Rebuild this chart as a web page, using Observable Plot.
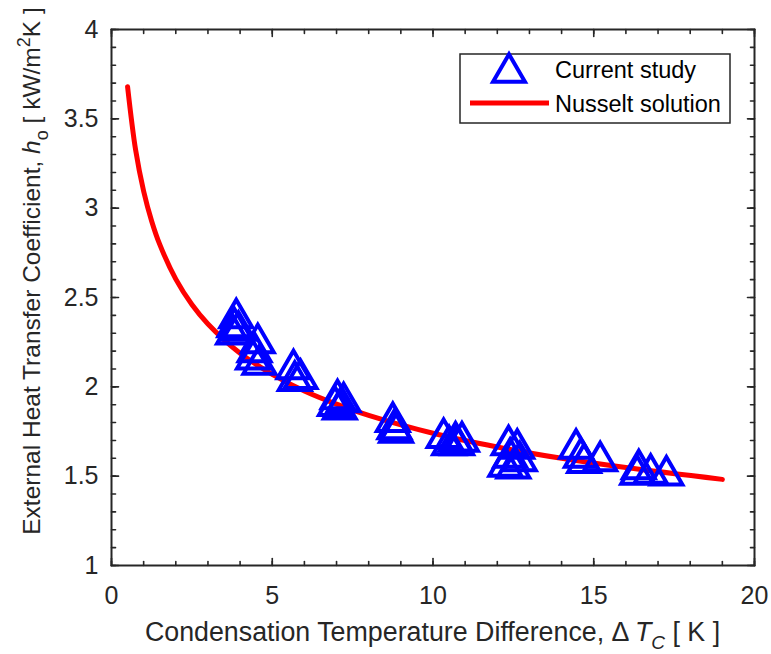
<!DOCTYPE html>
<html><head><meta charset="utf-8">
<script src="https://cdn.jsdelivr.net/npm/d3@7"></script>
<script src="https://cdn.jsdelivr.net/npm/@observablehq/plot@0.6"></script>
<style>body{margin:0;background:#fff} #chart{width:771px;height:654px}</style>
</head><body><div id="chart"></div>
<script>
// Current study (ΔT_C [K], h_o [kW/m²K])
const studyDT = [3.88, 3.82, 3.78, 3.95, 4.55, 4.45, 4.6, 4.4, 5.66, 5.88, 5.7, 7.03, 7.22, 7.1, 6.95, 8.75, 8.85, 8.8, 10.33, 10.7, 10.9, 10.75, 10.5, 12.35, 12.62, 12.4, 12.7, 12.25, 12.5, 14.45, 14.6, 15.2, 14.7, 16.4, 16.35, 16.77, 17.26];
const studyH  = [2.41, 2.36, 2.32, 2.34, 2.27, 2.22, 2.15, 2.18, 2.125, 2.07, 2.06, 1.957, 1.94, 1.90, 1.92, 1.83, 1.77, 1.79, 1.74, 1.72, 1.72, 1.70, 1.70, 1.70, 1.68, 1.63, 1.61, 1.58, 1.57, 1.68, 1.63, 1.61, 1.60, 1.565, 1.535, 1.54, 1.53];
// Nusselt solution
const nusseltDT = [0.5, 0.75, 1, 1.25, 1.5, 2, 2.5, 3, 4, 5, 6, 7, 8, 10, 12, 14, 16, 19];
const nusseltH  = [3.68, 3.326, 3.095, 2.927, 2.797, 2.603, 2.461, 2.352, 2.188, 2.07, 1.977, 1.903, 1.84, 1.74, 1.663, 1.60, 1.548, 1.482];
// Axes
const xTicks = [0, 5, 10, 15, 20];
const yTicks = [1, 1.5, 2, 2.5, 3, 3.5, 4];
const xMinor = [0,1,2,3,4,5,6,7,8,9,10,11,12,13,14,15,16,17,18,19,20];
const yMinor = [1,1.1,1.2,1.3,1.4,1.5,1.6,1.7,1.8,1.9,2,2.1,2.2,2.3,2.4,2.5,2.6,2.7,2.8,2.9,3,3.1,3.2,3.3,3.4,3.5,3.6,3.7,3.8,3.9,4];
const legendLabels = ["Current study", "Nusselt solution"];

const study = studyDT.map((dt, i) => ({dt, h: studyH[i]}));
const nusselt = nusseltDT.map((dt, i) => ({dt, h: nusseltH[i]}));

const INK = "#262626";
const FONT = "'Liberation Sans', Arial, Helvetica, sans-serif";

// triangle centred on its bounding box (like MATLAB's '^' marker)
const tri = {draw(ctx, size) {
  const r = Math.sqrt(size / Math.PI);
  ctx.moveTo(0, -0.95 * r);
  ctx.lineTo(1.1 * r, 0.95 * r);
  ctx.lineTo(-1.1 * r, 0.95 * r);
  ctx.closePath();
}};
const tickShape = {draw(ctx, l) { ctx.moveTo(0, 0); ctx.lineTo(0, -l); }};
const tickOpts = (len) => ({shape: tickShape, length: len, anchor: "start", stroke: INK, strokeWidth: 1.6});

const chart = Plot.plot({
  width: 771, height: 654,
  marginLeft: 111, marginRight: 17, marginTop: 29, marginBottom: 89,
  x: {domain: [0, 20]},
  y: {domain: [1, 4]},
  style: {fontFamily: FONT, background: "#fff", color: INK},
  marks: [
    Plot.line(nusselt, {x: "dt", y: "h", stroke: "#ff0000", strokeWidth: 5, curve: "catmull-rom"}),
    Plot.dot(study, {x: "dt", y: "h", symbol: tri, r: 14.5, stroke: "#0000ff", strokeWidth: 4, fill: "none", strokeLinejoin: "miter"}),
    // inward ticks on all four sides
    Plot.vectorX(xMinor, {x: d => d, frameAnchor: "bottom", rotate: 0, ...tickOpts(4)}),
    Plot.vectorX(xTicks, {x: d => d, frameAnchor: "bottom", rotate: 0, ...tickOpts(7)}),
    Plot.vectorX(xMinor, {x: d => d, frameAnchor: "top", rotate: 180, ...tickOpts(4)}),
    Plot.vectorX(xTicks, {x: d => d, frameAnchor: "top", rotate: 180, ...tickOpts(7)}),
    Plot.vectorY(yMinor, {y: d => d, frameAnchor: "left", rotate: 90, ...tickOpts(4)}),
    Plot.vectorY(yTicks, {y: d => d, frameAnchor: "left", rotate: 90, ...tickOpts(7)}),
    Plot.vectorY(yMinor, {y: d => d, frameAnchor: "right", rotate: -90, ...tickOpts(4)}),
    Plot.vectorY(yTicks, {y: d => d, frameAnchor: "right", rotate: -90, ...tickOpts(7)}),
    Plot.axisX(xTicks, {tickSize: 0, tickPadding: 21, fontSize: 25, label: null, tickFormat: d => String(d), fill: INK}),
    Plot.axisY(yTicks, {tickSize: 0, tickPadding: 13, fontSize: 25, label: null, tickFormat: d => String(d), fill: INK}),
    Plot.frame({stroke: INK, strokeWidth: 2})
  ]
});
document.getElementById("chart").append(chart);

const svg = d3.select(chart);
// X axis title
const xt = svg.append("text").attr("x", 432.5).attr("y", 641).attr("text-anchor", "middle")
  .attr("font-size", 26.8).attr("fill", INK).attr("font-family", FONT);
xt.append("tspan").text("Condensation Temperature Difference, Δ\u2009");
xt.append("tspan").attr("font-style", "italic").text("T");
xt.append("tspan").attr("font-size", 19).attr("dy", 8).attr("font-style", "italic").text("C");
xt.append("tspan").attr("dy", -8).text(" [ K ]");
// Y axis title
const yt = svg.append("text").attr("transform", "translate(40,271) rotate(-90)").attr("text-anchor", "middle")
  .attr("font-size", 24.5).attr("fill", INK).attr("font-family", FONT);
yt.append("tspan").text("External Heat Transfer Coefficient, ");
yt.append("tspan").attr("font-style", "italic").text("h");
yt.append("tspan").attr("font-size", 18).attr("dy", 8).text("o");
yt.append("tspan").attr("dy", -8).text(" [ kW/m");
yt.append("tspan").attr("font-size", 18).attr("dy", -10).text("2");
yt.append("tspan").attr("dy", 10).text("K ]");

// Legend
const lg = svg.append("g").attr("font-family", FONT).attr("font-size", 23.5).attr("fill", "#000").attr("text-anchor", "start");
lg.append("rect").attr("x", 460).attr("y", 54).attr("width", 270).attr("height", 69)
  .attr("fill", "#fff").attr("stroke", INK).attr("stroke-width", 1.5);
const p = d3.path(); tri.draw(p, Math.PI * 14.5 * 14.5);
lg.append("path").attr("d", p.toString()).attr("transform", "translate(509,68)")
  .attr("fill", "none").attr("stroke", "#0000ff").attr("stroke-width", 4).attr("stroke-linejoin", "miter");
lg.append("line").attr("x1", 470).attr("x2", 549).attr("y1", 103).attr("y2", 103)
  .attr("stroke", "#ff0000").attr("stroke-width", 5);
lg.append("text").attr("x", 555).attr("y", 78).attr("text-anchor", "start").text(legendLabels[0]);
lg.append("text").attr("x", 555).attr("y", 112).attr("text-anchor", "start").text(legendLabels[1]);
</script>
</body></html>
